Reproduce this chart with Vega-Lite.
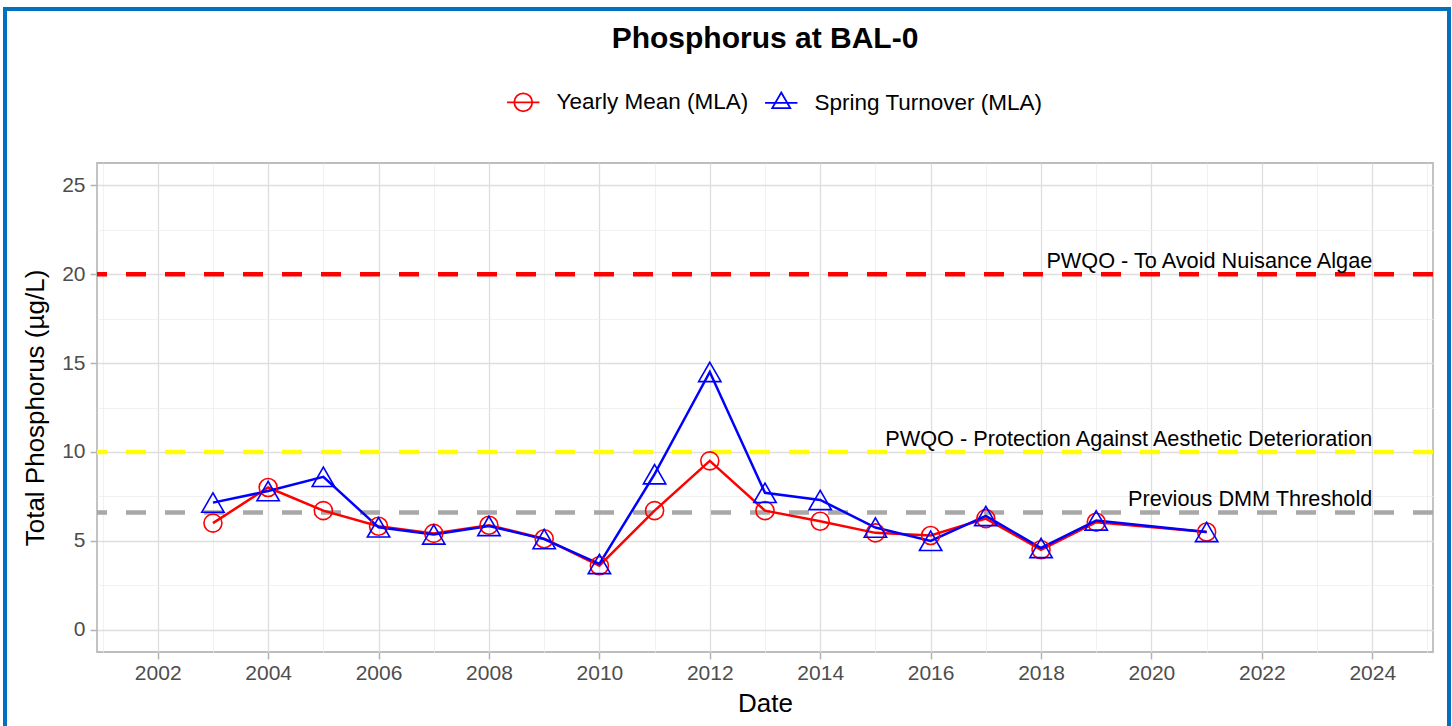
{
  "$schema": "https://vega.github.io/schema/vega-lite/v6.json",
  "background": "white",
  "padding": {"left": 97, "top": 163, "right": 19, "bottom": 74},
  "autosize": {"type": "none"},
  "width": 1336,
  "height": 489,
  "view": {"stroke": "#BDBDBD", "strokeWidth": 1.8},
  "title": {
    "text": "Phosphorus at BAL-0",
    "fontSize": 30,
    "fontWeight": "bold",
    "font": "Liberation Sans",
    "color": "black",
    "anchor": "middle",
    "frame": "group",
    "offset": -45
  },
  "datasets": {
    "series": [
      {"year": 2003, "value": 6.0, "series": "Yearly Mean (MLA)"},
      {"year": 2004, "value": 8.0, "series": "Yearly Mean (MLA)"},
      {"year": 2005, "value": 6.7, "series": "Yearly Mean (MLA)"},
      {"year": 2006, "value": 5.82, "series": "Yearly Mean (MLA)"},
      {"year": 2007, "value": 5.42, "series": "Yearly Mean (MLA)"},
      {"year": 2008, "value": 5.88, "series": "Yearly Mean (MLA)"},
      {"year": 2009, "value": 5.12, "series": "Yearly Mean (MLA)"},
      {"year": 2010, "value": 3.6, "series": "Yearly Mean (MLA)"},
      {"year": 2011, "value": 6.7, "series": "Yearly Mean (MLA)"},
      {"year": 2012, "value": 9.5, "series": "Yearly Mean (MLA)"},
      {"year": 2013, "value": 6.7, "series": "Yearly Mean (MLA)"},
      {"year": 2014, "value": 6.1, "series": "Yearly Mean (MLA)"},
      {"year": 2015, "value": 5.45, "series": "Yearly Mean (MLA)"},
      {"year": 2016, "value": 5.3, "series": "Yearly Mean (MLA)"},
      {"year": 2017, "value": 6.25, "series": "Yearly Mean (MLA)"},
      {"year": 2018, "value": 4.5, "series": "Yearly Mean (MLA)"},
      {"year": 2019, "value": 6.05, "series": "Yearly Mean (MLA)"},
      {"year": 2021, "value": 5.5, "series": "Yearly Mean (MLA)"},
      {"year": 2003, "value": 7.15, "series": "Spring Turnover (MLA)"},
      {"year": 2004, "value": 7.8, "series": "Spring Turnover (MLA)"},
      {"year": 2005, "value": 8.6, "series": "Spring Turnover (MLA)"},
      {"year": 2006, "value": 5.76, "series": "Spring Turnover (MLA)"},
      {"year": 2007, "value": 5.36, "series": "Spring Turnover (MLA)"},
      {"year": 2008, "value": 5.84, "series": "Spring Turnover (MLA)"},
      {"year": 2009, "value": 5.1, "series": "Spring Turnover (MLA)"},
      {"year": 2010, "value": 3.7, "series": "Spring Turnover (MLA)"},
      {"year": 2011, "value": 8.75, "series": "Spring Turnover (MLA)"},
      {"year": 2012, "value": 14.5, "series": "Spring Turnover (MLA)"},
      {"year": 2013, "value": 7.7, "series": "Spring Turnover (MLA)"},
      {"year": 2014, "value": 7.3, "series": "Spring Turnover (MLA)"},
      {"year": 2015, "value": 5.75, "series": "Spring Turnover (MLA)"},
      {"year": 2016, "value": 5.0, "series": "Spring Turnover (MLA)"},
      {"year": 2017, "value": 6.4, "series": "Spring Turnover (MLA)"},
      {"year": 2018, "value": 4.6, "series": "Spring Turnover (MLA)"},
      {"year": 2019, "value": 6.15, "series": "Spring Turnover (MLA)"},
      {"year": 2021, "value": 5.5, "series": "Spring Turnover (MLA)"}
    ],
    "thresholds": [
      {"value": 20, "label": "PWQO - To Avoid Nuisance Algae", "kind": "nuisance"},
      {"value": 10, "label": "PWQO - Protection Against Aesthetic Deterioration", "kind": "aesthetic"},
      {"value": 6.6, "label": "Previous DMM Threshold", "kind": "dmm"}
    ]
  },
  "layer": [
    {
      "data": {"name": "series"},
      "mark": {"type": "point", "opacity": 0, "filled": false, "size": 324},
      "encoding": {
        "x": {
          "field": "year",
          "type": "quantitative",
          "scale": {"domain": [2000.9, 2025.1], "nice": false, "zero": false},
          "axis": {
            "title": "Date",
            "values": [2001, 2002, 2003, 2004, 2005, 2006, 2007, 2008, 2009, 2010, 2011, 2012, 2013, 2014, 2015, 2016, 2017, 2018, 2019, 2020, 2021, 2022, 2023, 2024, 2025],
            "format": "d",
            "labelExpr": "datum.value % 2 === 0 ? datum.label : ''",
            "grid": true,
            "gridColor": {"condition": {"test": "datum.value % 2 !== 0", "value": "#EDEDED"}, "value": "#DEDEDE"},
            "gridWidth": {"condition": {"test": "datum.value % 2 !== 0", "value": 0.8}, "value": 1.3},
            "tickOpacity": {"condition": {"test": "datum.value % 2 !== 0", "value": 0}, "value": 1},
            "tickColor": "#B3B3B3",
            "tickWidth": 1.5,
            "tickSize": 7,
            "domain": false,
            "labelPadding": 3,
            "labelFontSize": 21,
            "labelColor": "#4D4D4D",
            "titleFontSize": 26,
            "titleFontWeight": "normal",
            "titleColor": "black",
            "titlePadding": 7
          }
        },
        "y": {
          "field": "value",
          "type": "quantitative",
          "scale": {"domain": [-1.25, 26.25], "nice": false, "zero": false},
          "axis": {
            "title": "Total Phosphorus (µg/L)",
            "values": [0, 2.5, 5, 7.5, 10, 12.5, 15, 17.5, 20, 22.5, 25],
            "labelExpr": "datum.value % 5 === 0 ? datum.label : ''",
            "grid": true,
            "gridColor": {"condition": {"test": "datum.value % 5 !== 0", "value": "#EDEDED"}, "value": "#DEDEDE"},
            "gridWidth": {"condition": {"test": "datum.value % 5 !== 0", "value": 0.8}, "value": 1.3},
            "tickOpacity": {"condition": {"test": "datum.value % 5 !== 0", "value": 0}, "value": 1},
            "tickColor": "#B3B3B3",
            "tickWidth": 1.5,
            "tickSize": 7,
            "domain": false,
            "labelPadding": 5,
            "labelFontSize": 21,
            "labelColor": "#4D4D4D",
            "titleFontSize": 26,
            "titleFontWeight": "normal",
            "titleColor": "black",
            "titlePadding": 13
          }
        },
        "color": {
          "field": "series",
          "type": "nominal",
          "title": null,
          "scale": {"domain": ["Yearly Mean (MLA)", "Spring Turnover (MLA)"], "range": ["#FF0000", "#0000FF"]},
          "legend": {
            "orient": "none",
            "direction": "horizontal",
            "legendX": 415,
            "legendY": -72,
            "padding": 0,
            "title": null,
            "labelFontSize": 22.5,
            "labelColor": "black",
            "labelFont": "Liberation Sans",
            "labelLimit": 600,
            "labelOffset": 22,
            "columnPadding": 12,
            "symbolSize": 324,
            "symbolStrokeWidth": 1.8,
            "symbolOpacity": 1,
            "symbolFillColor": "transparent"
          }
        },
        "shape": {
          "field": "series",
          "type": "nominal",
          "title": null,
          "scale": {
            "domain": ["Yearly Mean (MLA)", "Spring Turnover (MLA)"],
            "range": ["M-1,0A1,1,0,1,1,1,0A1,1,0,1,1,-1,0M-1.8,0L1.8,0", "M0,-1.155L1,0.577L-1,0.577ZM-1.8,0L1.8,0"]
          },
          "legend": {
            "orient": "none",
            "direction": "horizontal",
            "legendX": 415,
            "legendY": -72,
            "padding": 0,
            "title": null,
            "labelFontSize": 22.5,
            "labelColor": "black",
            "labelFont": "Liberation Sans",
            "labelLimit": 600,
            "labelOffset": 22,
            "columnPadding": 12,
            "symbolSize": 324,
            "symbolStrokeWidth": 1.8,
            "symbolOpacity": 1,
            "symbolFillColor": "transparent"
          }
        },
        "fill": {
          "field": "value",
          "type": "quantitative",
          "scale": {"type": "linear", "range": ["rgba(255,255,255,0)", "rgba(255,255,255,0)"]},
          "legend": {
            "orient": "none",
            "direction": "horizontal",
            "legendX": -92,
            "legendY": -154,
            "padding": 0,
            "title": null,
            "gradientLength": 1444,
            "gradientThickness": 740,
            "gradientStrokeColor": "#0070C0",
            "gradientStrokeWidth": 4,
            "labelExpr": "''",
            "labelOpacity": 0,
            "labelFontSize": 1,
            "labelOffset": -300
          }
        }
      }
    },
    {
      "data": {"name": "thresholds"},
      "mark": {"type": "rule", "strokeWidth": 4.5, "strokeDash": [20, 19]},
      "encoding": {
        "y": {"field": "value", "type": "quantitative"},
        "stroke": {
          "field": "kind",
          "type": "nominal",
          "scale": {"domain": ["nuisance", "aesthetic", "dmm"], "range": ["#FF0000", "#FFFF00", "#A8A8A8"]},
          "legend": null
        }
      }
    },
    {
      "data": {"name": "thresholds"},
      "mark": {"type": "text", "align": "right", "baseline": "alphabetic", "dy": -6, "fontSize": 21.7, "color": "black", "font": "Liberation Sans"},
      "encoding": {
        "x": {"datum": 2024, "type": "quantitative"},
        "y": {"field": "value", "type": "quantitative"},
        "text": {"field": "label", "type": "nominal"}
      }
    },
    {
      "data": {"name": "series"},
      "mark": {"type": "line", "strokeWidth": 2.5, "opacity": 1},
      "encoding": {
        "x": {"field": "year", "type": "quantitative"},
        "y": {"field": "value", "type": "quantitative"},
        "color": {"field": "series", "type": "nominal", "title": null}
      }
    },
    {
      "data": {"name": "series"},
      "transform": [{"filter": "datum.series === 'Yearly Mean (MLA)'"}],
      "mark": {"type": "point", "shape": "circle", "size": 324, "filled": false, "strokeWidth": 1.6, "opacity": 1},
      "encoding": {
        "x": {"field": "year", "type": "quantitative"},
        "y": {"field": "value", "type": "quantitative"},
        "color": {"field": "series", "type": "nominal", "title": null}
      }
    },
    {
      "data": {"name": "series"},
      "transform": [{"filter": "datum.series === 'Spring Turnover (MLA)'"}],
      "mark": {"type": "point", "shape": "triangle-up", "size": 500, "filled": false, "strokeWidth": 1.6, "opacity": 1},
      "encoding": {
        "x": {"field": "year", "type": "quantitative"},
        "y": {"field": "value", "type": "quantitative"},
        "color": {"field": "series", "type": "nominal", "title": null}
      }
    }
  ],
  "config": {
    "font": "Liberation Sans",
    "axis": {"labelFont": "Liberation Sans", "titleFont": "Liberation Sans"},
    "legend": {"labelFont": "Liberation Sans"}
  }
}
